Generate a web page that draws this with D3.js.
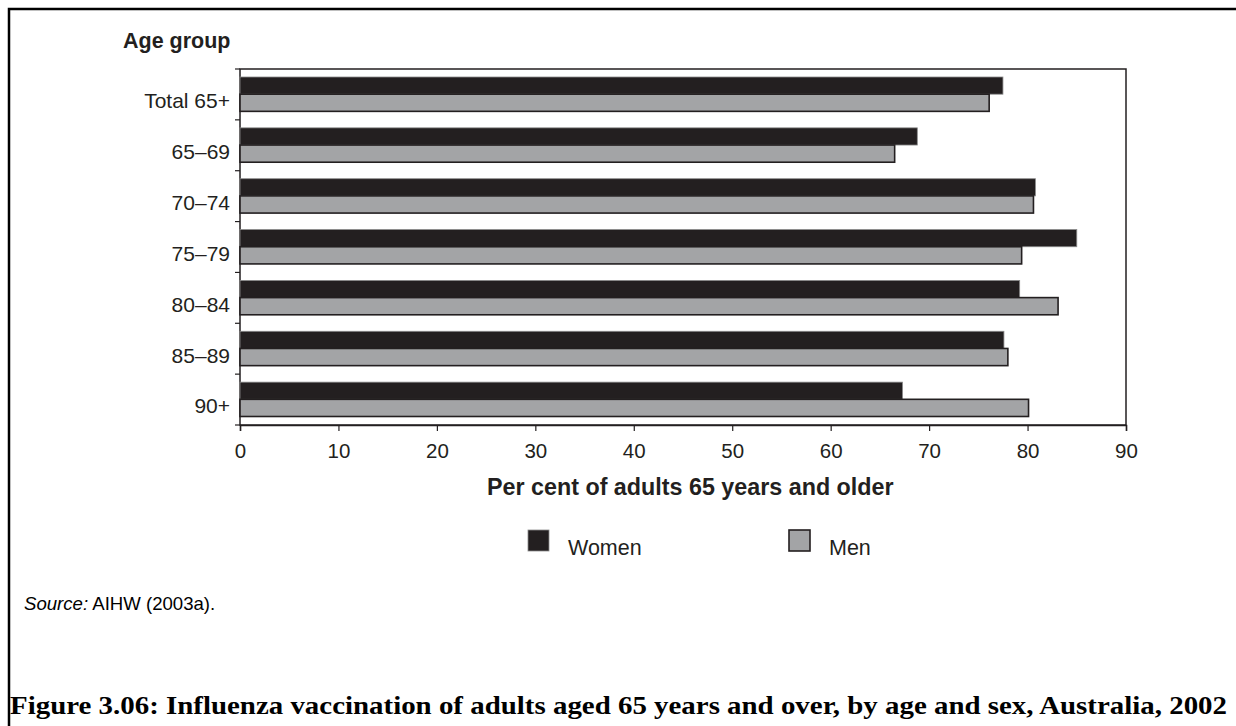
<!DOCTYPE html>
<html><head><meta charset="utf-8">
<script src="https://cdn.jsdelivr.net/npm/d3@7"></script>
<style>body{margin:0;background:#fff}svg{display:block}</style>
</head><body>
<svg id="c" width="1236" height="726"></svg>
<script>
const categories = ["Total 65+", "65–69", "70–74", "75–79", "80–84", "85–89", "90+"];
const women = [77.5, 68.8, 80.8, 85.0, 79.2, 77.6, 67.3];
const men = [76.1, 66.5, 80.6, 79.4, 83.1, 78.0, 80.1];
const xTicks = [0, 10, 20, 30, 40, 50, 60, 70, 80, 90];
const seriesNames = ["Women", "Men"];
const seriesColors = ["#231f20", "#a3a4a6"];

(function () {
const svg = d3.select("#c");
const pL = 240, pR = 1126, pT = 69, pB = 425;
const F = "'Liberation Sans', Arial, sans-serif";

// outer frame (top and left)
svg.append("path").attr("d", `M9,726 V9 H1236`).attr("fill", "none").attr("stroke", "#000").attr("stroke-width", 2.5);

const x = d3.scaleLinear().domain([0, 90]).range([pL, pR]);
const y = d3.scaleBand().domain(categories).range([pT, pB]);
const inner = d3.scaleBand().domain(seriesNames).range([8, y.bandwidth() - 8.5]);

// plot frame
svg.append("rect").attr("x", pL).attr("y", pT).attr("width", pR - pL).attr("height", pB - pT)
  .attr("fill", "none").attr("stroke", "#231f20").attr("stroke-width", 1.5);

// bars
const g = svg.append("g");
categories.forEach((c, i) => {
  [women[i], men[i]].forEach((v, s) => {
    g.append("rect")
      .attr("x", x(0)).attr("y", y(c) + inner(seriesNames[s]))
      .attr("width", x(v) - x(0)).attr("height", inner.bandwidth())
      .attr("fill", seriesColors[s])
      .attr("stroke", s === 0 ? "#8a8a8a" : "#231f20")
      .attr("stroke-width", s === 0 ? 0.8 : 1.6);
  });
});

// x axis
const xAxis = d3.axisBottom(x).tickValues(xTicks).tickSize(6).tickPadding(12).tickFormat(d3.format("d"));
const xg = svg.append("g").attr("transform", `translate(0,${pB})`).call(xAxis);
xg.select(".domain").attr("stroke", "#231f20").attr("stroke-width", 1.5);
xg.selectAll(".tick line").attr("stroke", "#231f20").attr("stroke-width", 1.2);
xg.selectAll("text").attr("font-family", F).attr("font-size", 20.5).attr("fill", "#231f20");

// y axis: ticks at band boundaries, labels level with the lower bar
const yAxisG = svg.append("g").attr("transform", `translate(${pL},0)`);
const bounds = categories.map(c => y(c)).concat([pB]);
yAxisG.selectAll("line.yt").data(bounds).join("line").attr("class", "yt")
  .attr("x1", -5).attr("x2", 0).attr("y1", d => d).attr("y2", d => d)
  .attr("stroke", "#231f20").attr("stroke-width", 1.2);
yAxisG.selectAll("text").data(categories).join("text")
  .attr("x", -10).attr("y", d => y(d) + y.bandwidth() / 2 + 6.5)
  .attr("dy", "0.35em").attr("text-anchor", "end")
  .attr("font-family", F).attr("font-size", 21).attr("fill", "#231f20").text(d => d);

// axis titles
svg.append("text").attr("x", 123).attr("y", 40).attr("dy", "0.35em")
  .attr("font-family", F).attr("font-weight", "bold").attr("font-size", 21.5).attr("fill", "#231f20").text("Age group");
svg.append("text").attr("x", 487).attr("y", 487).attr("dy", "0.35em")
  .attr("font-family", F).attr("font-weight", "bold").attr("font-size", 23.3).attr("fill", "#231f20")
  .text("Per cent of adults 65 years and older");

// legend
const legX = [528, 789];
seriesNames.forEach((n, i) => {
  svg.append("rect").attr("x", legX[i]).attr("y", 530).attr("width", 21).attr("height", 21)
    .attr("fill", seriesColors[i]).attr("stroke", i === 0 ? "#8a8a8a" : "#231f20").attr("stroke-width", i === 0 ? 0.8 : 1.6);
  svg.append("text").attr("x", legX[i] + 40).attr("y", 547).attr("dy", "0.35em")
    .attr("font-family", F).attr("font-size", 21.5).attr("fill", "#231f20").text(n);
});

// source
const src = svg.append("text").attr("x", 24).attr("y", 603).attr("dy", "0.35em")
  .attr("font-family", F).attr("font-size", 18.6).attr("fill", "#000");
src.append("tspan").attr("font-style", "italic").text("Source:");
src.append("tspan").text(" AIHW (2003a).");

// title
svg.append("text").attr("x", 10).attr("y", 705).attr("dy", "0.35em")
  .attr("font-family", "'Liberation Serif', 'Times New Roman', serif").attr("font-weight", "bold").attr("font-size", 26)
  .attr("textLength", 1217).attr("lengthAdjust", "spacingAndGlyphs").attr("fill", "#000")
  .text("Figure 3.06: Influenza vaccination of adults aged 65 years and over, by age and sex, Australia, 2002");
})();
</script>
</body></html>
